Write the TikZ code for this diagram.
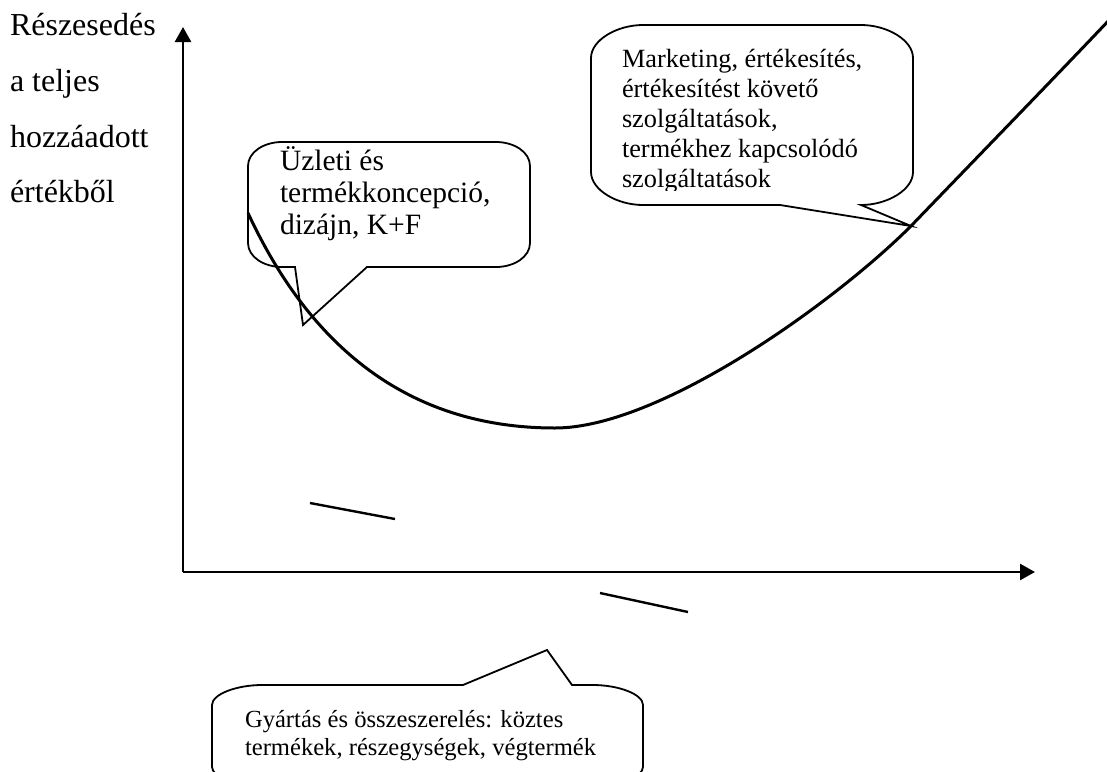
\documentclass[tikz,border=0pt]{standalone}
\usepackage{fontspec}
\setmainfont{Liberation Serif}
\usetikzlibrary{arrows.meta}
\begin{document}
\begin{tikzpicture}[x=1pt,y=-1pt,
  txt/.style={anchor=base west, inner sep=0pt, outer sep=0pt},
  labtxt/.style={txt, font=\fontsize{32}{36}\selectfont},
  onetxt/.style={txt, font=\fontsize{29.5}{33}\selectfont},
  twotxt/.style={txt, font=\fontsize{26.3}{30}\selectfont},
  threetxt/.style={txt, font=\fontsize{24.6}{28}\selectfont},
  bubble/.style={draw=black, line width=1.8pt, fill=white, line join=miter},
  axis/.style={line width=2.6pt, -{Triangle[length=15pt,width=16pt]}},
  curve/.style={line width=3pt, line join=round},
  stray/.style={line width=2.4pt}]
\useasboundingbox (0,0) rectangle (1107,771);
\clip (0,0) rectangle (1107,771);

% axis label
\node[labtxt] (l1) at (10,35) {Részesedés};
\node[labtxt] (l2) at (10,91) {a teljes};
\node[labtxt] (l3) at (10,147) {hozzáadott};
\node[labtxt] (l4) at (10,202) {értékből};

% axes
\coordinate (O) at (183,572);
\coordinate (Ytip) at (183,27);
\coordinate (Xtip) at (1035,572);
\draw[axis] (O) -- (Ytip);
\draw[axis] (O) -- (Xtip);

% bubble 1
\coordinate (p1) at (303,325);
\draw[bubble] (248,166) .. controls (248,152) and (264,142) .. (282,142) -- (496,142)
  .. controls (514,142) and (530,152) .. (530,166) -- (530,243)
  .. controls (530,257) and (514,267) .. (496,267) -- (367,267) -- (p1) -- (295,267) -- (282,267)
  .. controls (264,267) and (248,257) .. (248,243) -- cycle;
\node[onetxt] (b1a) at (280,170) {Üzleti és};
\node[onetxt] (b1b) at (280,202) {termékkoncepció,};
\node[onetxt] (b1c) at (280,234) {dizájn, K+F};

% bubble 2
\coordinate (p2) at (911,226);
\draw[bubble] (591,58) .. controls (591,40) and (617,25) .. (643,25) -- (861,25)
  .. controls (887,25) and (913,40) .. (913,58) -- (913,172)
  .. controls (913,190) and (887,205) .. (861,205) -- (p2) -- (780,205) -- (643,205)
  .. controls (617,205) and (591,190) .. (591,172) -- cycle;
\begin{scope}
\clip (595,30) rectangle (910,190);
\node[twotxt] (b2a) at (622,67) {Marketing, értékesítés,};
\node[twotxt] (b2b) at (622,97) {értékesítést követő};
\node[twotxt] (b2c) at (622,127) {szolgáltatások,};
\node[twotxt] (b2d) at (622,157) {termékhez kapcsolódó};
\node[twotxt] (b2e) at (622,187) {szolgáltatások};
\end{scope}

% bubble 3
\coordinate (p3) at (547,650);
\draw[bubble] (212,705) .. controls (212,694) and (237,685) .. (262,685) -- (463,685) -- (p3) -- (572,685) -- (593,685)
  .. controls (618,685) and (643,694) .. (643,705) -- (643,767)
  .. controls (643,777) and (618,786) .. (593,786) -- (262,786)
  .. controls (237,786) and (212,777) .. (212,767) -- cycle;
\node[threetxt] (b3a) at (245,727) {Gyártás és összeszerelés: köztes};
\node[threetxt] (b3b) at (245,755) {termékek, részegységek, végtermék};

% curve
\coordinate (c0) at (248,213);
\coordinate (cmin) at (555,428);
\coordinate (cend) at (1112,17);
\draw[curve] (c0) .. controls (300,325) and (390,428) .. (cmin)
  .. controls (660,428) and (835,302) .. (p2)
  .. controls (960,175) and (1060,72) .. (cend);

% stray lines
\coordinate (s1a) at (310,503);
\coordinate (s1b) at (395,519);
\coordinate (s2a) at (600,593);
\coordinate (s2b) at (688,612);
\draw[stray] (s1a) -- (s1b);
\draw[stray] (s2a) -- (s2b);
\end{tikzpicture}
\end{document}
